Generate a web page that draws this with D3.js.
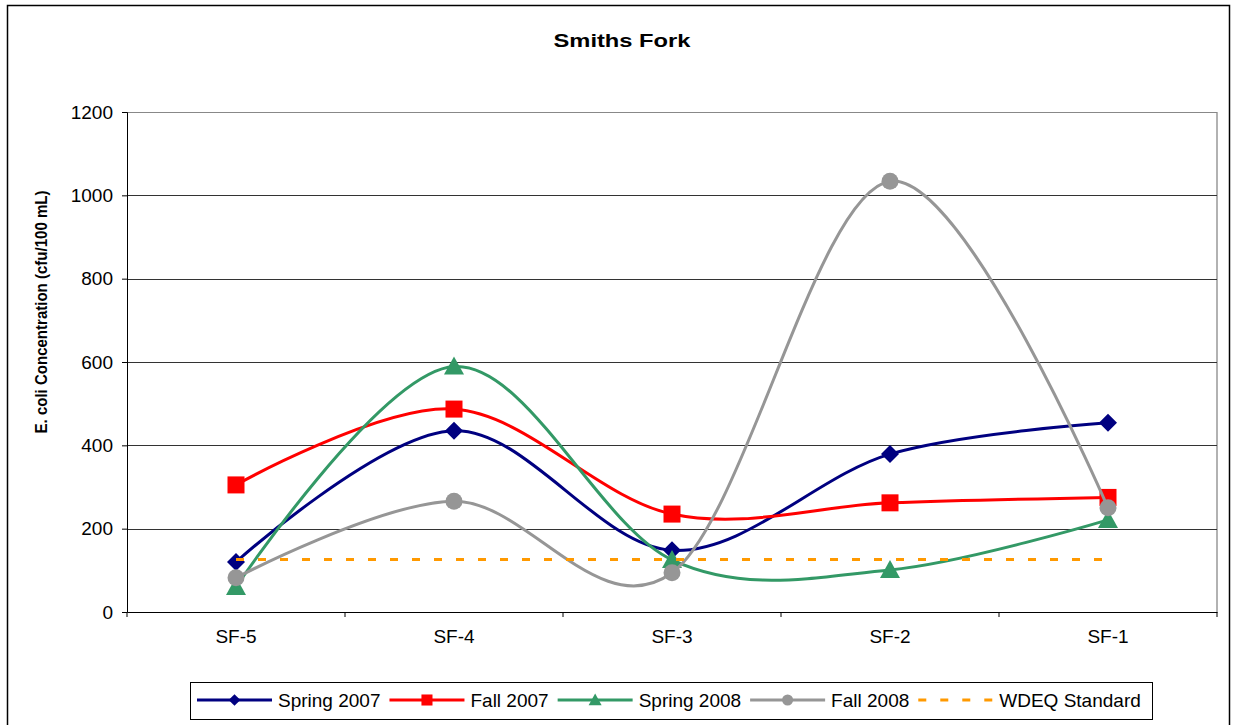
<!DOCTYPE html>
<html>
<head>
<meta charset="utf-8">
<script src="https://cdn.jsdelivr.net/npm/d3@7"></script>
<style>
  body { margin: 0; background: #fff; }
  text { font-family: "Liberation Sans", Arial, sans-serif; fill: #000; }
</style>
</head>
<body>
<div id="app"></div>
<script>
// data
const sites = ["SF-5", "SF-4", "SF-3", "SF-2", "SF-1"];
const spring2007 = [120, 435, 148, 379, 454];
const fall2007 = [305, 487, 235, 262, 275];
const spring2008 = [60, 589, 125, 101, 221];
const fall2008 = [82, 266, 94, 1034, 250];
const wdeq = [126, 126, 126, 126, 126];
const yTicks = [0, 200, 400, 600, 800, 1000, 1200];

const series = [
    { name: "Spring 2007", values: spring2007, color: "#000080", marker: "diamond", smooth: true },
    { name: "Fall 2007", values: fall2007, color: "#FF0000", marker: "square", smooth: true },
    { name: "Spring 2008", values: spring2008, color: "#339966", marker: "triangle", smooth: true },
    { name: "Fall 2008", values: fall2008, color: "#969696", marker: "circle", smooth: true },
    { name: "WDEQ Standard", values: wdeq, color: "#FF9900", marker: null, dash: "8,14" },
];

const W = 1235, H = 725;
const plot = { left: 127, right: 1217, top: 112, bottom: 612 };

const svg = d3.select("#app").append("svg")
    .attr("width", W)
    .attr("height", H);

// outer chart border
svg.append("rect")
    .attr("x", 7.5).attr("y", 5.5)
    .attr("width", 1222).attr("height", 740)
    .attr("fill", "none").attr("stroke", "#000").attr("stroke-width", 1.5);

const x = d3.scaleBand().domain(sites).range([plot.left, plot.right]);
const y = d3.scaleLinear().domain([0, 1200]).range([plot.bottom, plot.top]);

// plot area border (right side grey)
svg.append("line")
    .attr("x1", plot.right).attr("x2", plot.right)
    .attr("y1", plot.top).attr("y2", plot.bottom)
    .attr("stroke", "#999").attr("stroke-width", 1.5);

// gridlines
svg.append("g")
    .selectAll("line")
    .data(yTicks.slice(1))
    .join("line")
    .attr("x1", plot.left).attr("x2", plot.right)
    .attr("y1", (d) => Math.round(y(d)) + 0.5).attr("y2", (d) => Math.round(y(d)) + 0.5)
    .attr("stroke", (d) => (d === 1200 ? "#888" : "#333"))
    .attr("stroke-width", 1);

// y axis
const yAxis = svg.append("g")
    .attr("transform", `translate(${plot.left},0)`)
    .call(d3.axisLeft(y).tickValues(yTicks).tickFormat(d3.format("d")).tickSize(5).tickPadding(9));
yAxis.attr("font-size", null).attr("font-family", null);
yAxis.select(".domain").attr("stroke", "#000");
yAxis.selectAll(".tick line").attr("stroke", "#000");
yAxis.selectAll("text").style("font-size", "19px");

// x axis with ticks between categories
const xAxis = svg.append("g")
    .attr("transform", `translate(0,${plot.bottom})`)
    .call(d3.axisBottom(x).tickSize(0).tickPadding(18));
xAxis.attr("font-size", null).attr("font-family", null);
xAxis.select(".domain").attr("stroke", "#000");
xAxis.selectAll("text").style("font-size", "19px");
svg.append("g")
    .selectAll("line")
    .data(sites.map((s) => x(s)).concat([plot.right]))
    .join("line")
    .attr("x1", (d) => d).attr("x2", (d) => d)
    .attr("y1", plot.bottom).attr("y2", plot.bottom + 5)
    .attr("stroke", "#000");

// title and y label
svg.append("text")
    .attr("x", 622).attr("y", 47)
    .attr("text-anchor", "middle")
    .attr("textLength", 137).attr("lengthAdjust", "spacingAndGlyphs")
    .style("font-size", "19px").style("font-weight", "bold")
    .text("Smiths Fork");

svg.append("text")
    .attr("transform", "translate(47,312) rotate(-90)")
    .attr("text-anchor", "middle")
    .attr("textLength", 243).attr("lengthAdjust", "spacingAndGlyphs")
    .style("font-size", "16px").style("font-weight", "bold")
    .text("E. coli Concentration (cfu/100 mL)");

const cx = (i) => x(sites[i]) + x.bandwidth() / 2;
const line = d3.line()
    .x((d, i) => cx(i))
    .y((d) => y(d))
    .curve(d3.curveCatmullRom.alpha(0));
const straight = d3.line().x((d, i) => cx(i)).y((d) => y(d));

function drawMarker(g, type, color) {
    if (type === "diamond") {
        g.append("path").attr("d", "M0,-9L9,0L0,9L-9,0Z").attr("fill", color);
    } else if (type === "square") {
        g.append("rect").attr("x", -8.5).attr("y", -8.5).attr("width", 17).attr("height", 17).attr("fill", color);
    } else if (type === "triangle") {
        g.append("path").attr("d", "M0,-10L10,8L-10,8Z").attr("fill", color);
    } else if (type === "circle") {
        g.append("circle").attr("r", 8.5).attr("fill", color);
    }
}

series.forEach((s) => {
    svg.append("path")
        .attr("d", s.smooth ? line(s.values) : straight(s.values))
        .attr("fill", "none")
        .attr("stroke", s.color)
        .attr("stroke-width", 3)
        .attr("stroke-dasharray", s.dash || null);
    if (s.marker) {
        s.values.forEach((v, i) => {
            const g = svg.append("g").attr("transform", `translate(${cx(i)},${y(v)})`);
            drawMarker(g, s.marker, s.color);
        });
    }
});

// legend
const legend = svg.append("g");
legend.append("rect")
    .attr("x", 190.5).attr("y", 682.5)
    .attr("width", 962).attr("height", 37)
    .attr("fill", "#fff").attr("stroke", "#000").attr("stroke-width", 1);
let lx = 197;
const ly = 700;
series.forEach((s) => {
    legend.append("line")
        .attr("x1", lx).attr("x2", lx + 75)
        .attr("y1", ly).attr("y2", ly)
        .attr("stroke", s.color).attr("stroke-width", 3)
        .attr("stroke-dasharray", s.dash || null);
    if (s.marker) {
        const g = legend.append("g").attr("transform", `translate(${lx + 37.5},${ly}) scale(0.65)`);
        drawMarker(g, s.marker, s.color);
    }
    const t = legend.append("text")
        .attr("x", lx + 81).attr("y", ly + 7)
        .style("font-size", "19px")
        .text(s.name);
    lx += 81 + t.node().getComputedTextLength() + 9;
});
</script>
</body>
</html>
